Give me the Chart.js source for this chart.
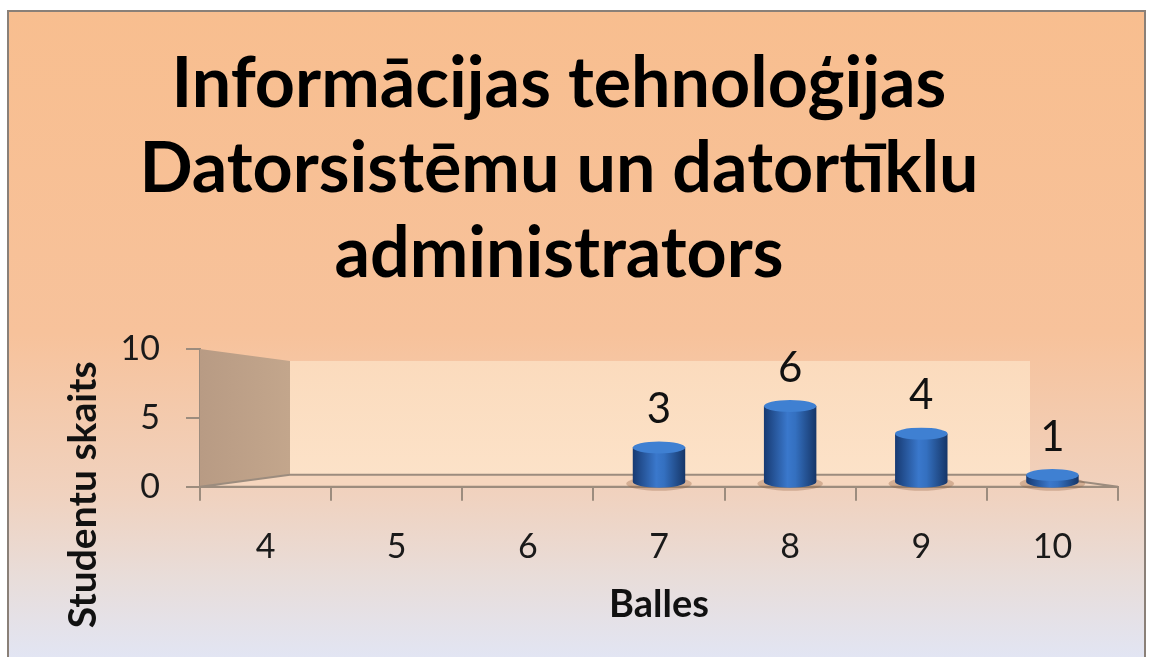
<!DOCTYPE html>
<html>
<head>
<meta charset="utf-8">
<script src="https://cdn.jsdelivr.net/npm/chart.js@4/dist/chart.umd.min.js"></script>
<style>
  html, body { margin: 0; padding: 0; background: #fff; }
  #wrap { width: 1152px; height: 657px; }
</style>
</head>
<body>
<div id="wrap"><canvas id="chart" width="1152" height="657"></canvas></div>
<script>
const titleLines = ["Informācijas tehnoloģijas", "Datorsistēmu un datortīklu", "administrators"];
const categories = ["4", "5", "6", "7", "8", "9", "10"];
const studentCounts = [0, 0, 0, 3, 6, 4, 1];
const yTicks = [0, 5, 10];
const xTitle = "Balles";
const yTitle = "Studentu skaits";

const FONT = "Lato, 'Open Sans', sans-serif";

// slide-like background with thin frame
const backgroundPlugin = {
  id: "background",
  beforeDraw(chart) {
    const { ctx, width, height } = chart;
    ctx.save();
    ctx.fillStyle = "#fff";
    ctx.fillRect(0, 0, width, height);
    const g = ctx.createLinearGradient(0, 10, 0, height);
    g.addColorStop(0, "#F8BE8F");
    g.addColorStop(0.5, "#F7C29B");
    g.addColorStop(0.75, "#F0D2BF");
    g.addColorStop(0.88, "#E8DDDA");
    g.addColorStop(1, "#E2E5F3");
    ctx.fillStyle = g;
    ctx.fillRect(7, 10, width - 13, height - 10);
    ctx.strokeStyle = "#8a8078";
    ctx.lineWidth = 2;
    ctx.beginPath();
    ctx.moveTo(8, height);
    ctx.lineTo(8, 11);
    ctx.lineTo(width - 7, 11);
    ctx.lineTo(width - 7, height);
    ctx.stroke();
    ctx.restore();
  }
};

// fake 3D walls and floor behind the bars
const wallsPlugin = {
  id: "walls",
  beforeDatasetsDraw(chart) {
    const { ctx, chartArea: a } = chart;
    const dxL = 90, dxR = 88, dy = 12;
    ctx.save();
    // back wall
    const bg = ctx.createLinearGradient(0, a.top + dy, 0, a.bottom - dy);
    bg.addColorStop(0, "#FBDBBD");
    bg.addColorStop(1, "#FCE2C8");
    ctx.fillStyle = bg;
    ctx.fillRect(a.left + dxL, a.top + dy, a.right - dxR - a.left - dxL, a.bottom - a.top - 2 * dy);
    // side wall
    const sg = ctx.createLinearGradient(a.left, 0, a.left + dxL, 0);
    sg.addColorStop(0, "#B89B84");
    sg.addColorStop(1, "#C3A68C");
    ctx.fillStyle = sg;
    ctx.beginPath();
    ctx.moveTo(a.left, a.top);
    ctx.lineTo(a.left + dxL, a.top + dy);
    ctx.lineTo(a.left + dxL, a.bottom - dy);
    ctx.lineTo(a.left, a.bottom);
    ctx.closePath();
    ctx.fill();
    // floor
    ctx.fillStyle = "rgba(246,214,190,0.9)";
    ctx.beginPath();
    ctx.moveTo(a.left, a.bottom);
    ctx.lineTo(a.left + dxL, a.bottom - dy);
    ctx.lineTo(a.right - dxR, a.bottom - dy);
    ctx.lineTo(a.right, a.bottom);
    ctx.closePath();
    ctx.fill();
    ctx.strokeStyle = "#9c8c7e";
    ctx.lineWidth = 2;
    ctx.stroke();
    ctx.restore();
  }
};

// cylinder shading and value labels on top of the library's bars
const cylinderPlugin = {
  id: "cylinders",
  afterDatasetsDraw(chart) {
    const { ctx } = chart;
    const meta = chart.getDatasetMeta(0);
    ctx.save();
    meta.data.forEach((bar, i) => {
      const v = studentCounts[i];
      if (!v) return;
      const { x, y, base, width } = bar.getProps(["x", "y", "base", "width"], true);
      const rx = width / 2, ry = 6;
      const bottom = base - 4;
      // shadow
      ctx.fillStyle = "rgba(150,100,70,0.35)";
      ctx.beginPath();
      ctx.ellipse(x, bottom + 2, rx * 1.25, ry + 1, 0, 0, Math.PI * 2);
      ctx.fill();
      const g = ctx.createLinearGradient(x - rx, 0, x + rx, 0);
      g.addColorStop(0, "#173A72");
      g.addColorStop(0.45, "#3A78CC");
      g.addColorStop(0.6, "#3470C0");
      g.addColorStop(1, "#163668");
      ctx.fillStyle = g;
      const top = Math.min(y + 2, bottom);
      ctx.beginPath();
      ctx.moveTo(x - rx, top);
      ctx.lineTo(x - rx, bottom);
      ctx.ellipse(x, bottom, rx, ry, 0, Math.PI, 0, true);
      ctx.lineTo(x + rx, top);
      ctx.closePath();
      ctx.fill();
      ctx.fillStyle = "#3F80D2";
      ctx.beginPath();
      ctx.ellipse(x, top, rx, ry, 0, 0, Math.PI * 2);
      ctx.fill();
      // value label
      ctx.fillStyle = "#111";
      ctx.font = "42px " + FONT;
      ctx.textAlign = "center";
      ctx.textBaseline = "middle";
      ctx.fillText(String(v), x, top - 38);
    });
    ctx.restore();
  }
};

// y axis title sits lower than the axis centre in the original
const yTitlePlugin = {
  id: "yTitle",
  afterDraw(chart) {
    const { ctx, chartArea: a } = chart;
    ctx.save();
    ctx.translate(83, a.bottom + 8);
    ctx.rotate(-Math.PI / 2);
    ctx.fillStyle = "#111";
    ctx.font = "bold 39px " + FONT;
    ctx.textAlign = "center";
    ctx.textBaseline = "middle";
    ctx.fillText(yTitle, 0, 0);
    ctx.restore();
  }
};

new Chart(document.getElementById("chart"), {
  type: "bar",
  data: {
    labels: categories,
    datasets: [{
      label: yTitle,
      data: studentCounts,
      backgroundColor: "rgba(0,0,0,0)",
      borderWidth: 0,
      barPercentage: 0.4,
      categoryPercentage: 1
    }]
  },
  options: {
    responsive: false,
    animation: false,
    layout: { padding: { left: 0, right: 34, top: 0, bottom: 41 } },
    plugins: {
      legend: { display: false },
      tooltip: { enabled: false },
      title: {
        display: true,
        text: titleLines,
        color: "#000",
        font: { family: FONT, size: 70, weight: "bold", lineHeight: 1.214 },
        padding: { top: 42, bottom: 52 }
      }
    },
    scales: {
      x: {
        grid: { display: true, drawOnChartArea: false, drawTicks: true, tickLength: 14, color: "#9c8c7e", lineWidth: 2 },
        border: { display: true, color: "#9c8c7e", width: 2 },
        ticks: { color: "#1a1a1a", font: { family: FONT, size: 34 }, padding: 26 },
        title: { display: true, text: xTitle, color: "#111", font: { family: FONT, size: 38, weight: "bold", lineHeight: 0.59 }, padding: { top: 0, bottom: 0 } }
      },
      y: {
        min: 0,
        max: 10,
        afterBuildTicks(axis) { axis.ticks = yTicks.map(v => ({ value: v })); },
        afterFit(axis) { axis.width = 200; },
        grid: { display: true, drawOnChartArea: false, drawTicks: true, tickLength: 14, color: "#9c8c7e", lineWidth: 2 },
        border: { display: true, color: "#9c8c7e", width: 2 },
        ticks: { color: "#1a1a1a", font: { family: FONT, size: 34 }, padding: 26 },
        title: { display: false }
      }
    }
  },
  plugins: [backgroundPlugin, wallsPlugin, cylinderPlugin, yTitlePlugin]
});
</script>
</body>
</html>
